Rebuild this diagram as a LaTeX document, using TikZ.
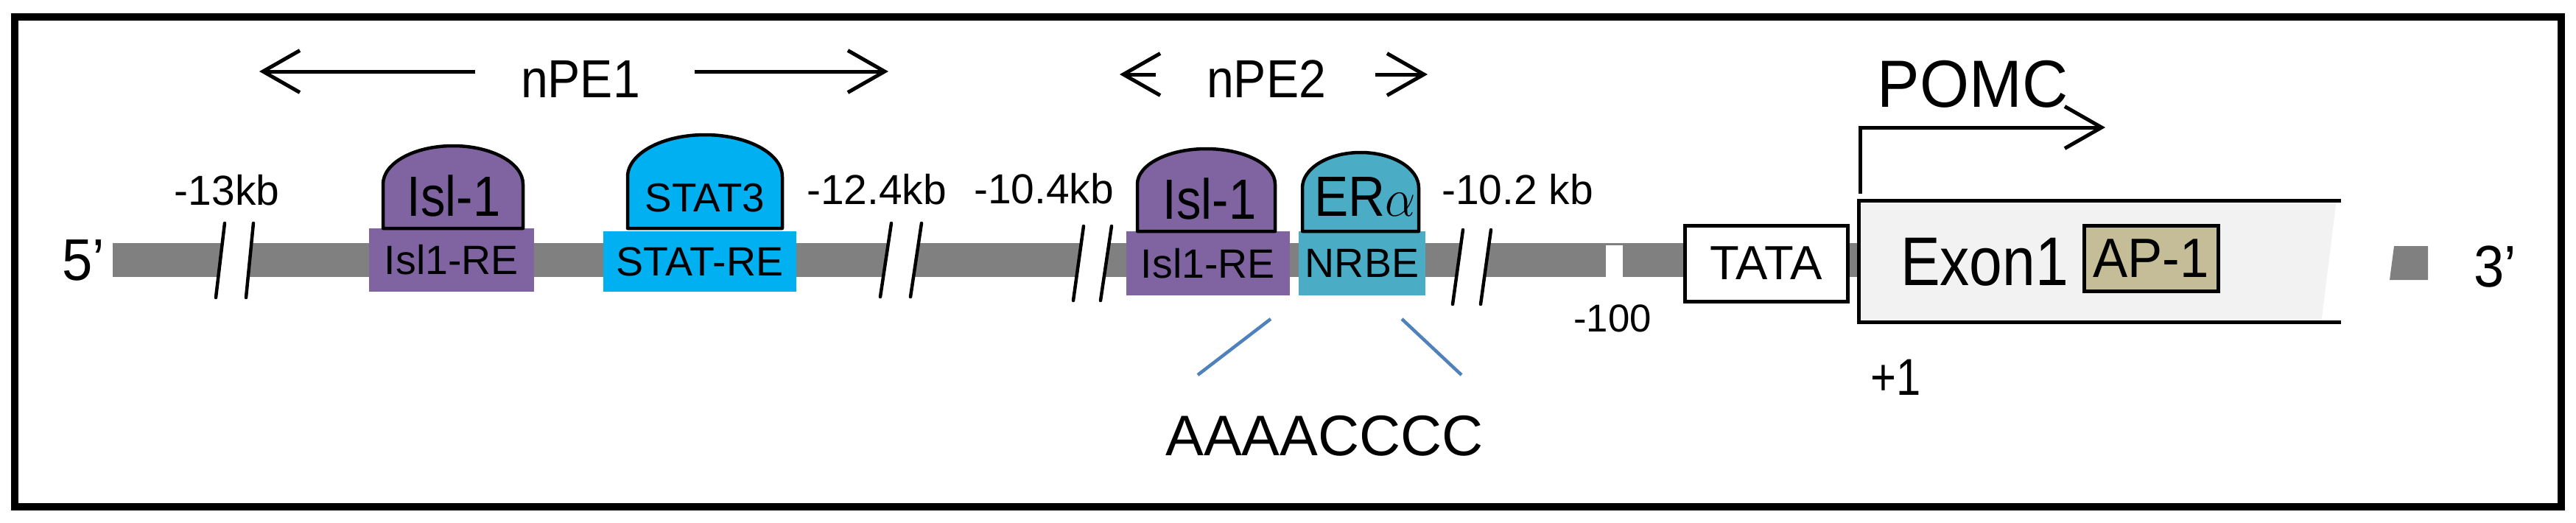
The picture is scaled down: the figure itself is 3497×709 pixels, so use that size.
\documentclass[tikz,border=0pt]{standalone}
\usepackage{fontspec}
\setmainfont{Liberation Sans}
\usetikzlibrary{arrows.meta}
\definecolor{dna}{HTML}{808080}
\definecolor{islpurple}{HTML}{8064A2}
\definecolor{statcyan}{HTML}{00B0F0}
\definecolor{erteal}{HTML}{4BACC6}
\definecolor{exongray}{HTML}{F2F2F2}
\definecolor{aptan}{HTML}{C4BD97}
\definecolor{linkblue}{HTML}{4F81BD}
\newcommand{\fsz}[1]{\fontsize{#1pt}{#1pt}\selectfont}
\newcommand{\nar}[2]{\scalebox{#1}[1]{#2}}
\begin{document}
\begin{tikzpicture}[x=0.1mm,y=-0.1mm,
  txt/.style={inner sep=0pt, outer sep=0pt, anchor=base},
  kb/.style={txt, font=\fsz{16.2}},
  re/.style={inner sep=0pt, outer sep=0pt, font=\fsz{15.8}},
  dome/.style={line width=0.45mm, line join=round, draw=black},
  brk/.style={line width=0.45mm, line cap=round, draw=black},
  barb/.style={line width=0.5mm, -{Straight Barb[length=5mm, width=5.7mm, line width=0.5mm]}},
  blk/.style={draw=black, line width=0.5mm, inner sep=0pt, outer sep=0pt},
  link/.style={draw=linkblue, line width=0.45mm}]
\useasboundingbox (0,0) rectangle (3497,709);
\draw[line width=1mm] (20,23) rectangle (3477,688);

% DNA bar
\fill[dna] (153,330) rectangle (2521,376);
\fill[white] (2180,333) rectangle (2203,377);
\fill[dna] (3250,334) -- (3296,334) -- (3296,380) -- (3244,380) -- cycle;

% breaks
\fill[white] (305,303) -- (344,303) -- (334,404) -- (293,404) -- cycle;
\draw[brk] (305,303) -- (293,404); \draw[brk] (344,303) -- (334,404);
\fill[white] (1210,303) -- (1251,303) -- (1236,403) -- (1195,403) -- cycle;
\draw[brk] (1210,303) -- (1195,403); \draw[brk] (1251,303) -- (1236,403);
\fill[white] (1471,307) -- (1509,307) -- (1494,408) -- (1457,408) -- cycle;
\draw[brk] (1471,307) -- (1457,408); \draw[brk] (1509,307) -- (1494,408);
\fill[white] (1986,312) -- (2024,312) -- (2010,413) -- (1972,413) -- cycle;
\draw[brk] (1986,312) -- (1972,413); \draw[brk] (2024,312) -- (2010,413);

% ends
\node[txt, font=\fsz{22.7}] (five) at (113,380) {\nar{0.93}{5’}};
\node[txt, font=\fsz{22.7}] (three) at (3387,389) {\nar{0.93}{3’}};

% kb labels
\node[kb] (k13) at (308,278) {-13kb};
\node[kb] (k124) at (1190,277) {-12.4kb};
\node[kb] (k104) at (1417,276) {-10.4kb};
\node[kb] (k102) at (2060,277) {-10.2 kb};
\node[txt, font=\fsz{15}] (m100) at (2189,450) {-100};

% response elements
\node[re, fill=islpurple, minimum width=22.4mm, minimum height=8.6mm] (isre1) at (613,353) {Isl1-RE};
\node[re, fill=statcyan, minimum width=26.2mm, minimum height=8.2mm] (stre) at (950,355) {STAT-RE};
\node[re, fill=islpurple, minimum width=22.2mm, minimum height=8.7mm] (isre2) at (1640,357.5) {Isl1-RE};
\node[re, fill=erteal, minimum width=17.2mm, minimum height=8.7mm] (nrbe) at (1849,357.5) {NRBE};

% domes
\filldraw[dome, fill=islpurple] (520,310) -- (520,250) arc[start angle=180, end angle=0, x radius=9.5mm, y radius=5.2mm] -- (710,310) -- cycle;
\filldraw[dome, fill=statcyan] (852,310) -- (852,240) arc[start angle=180, end angle=0, x radius=10.5mm, y radius=5.7mm] -- (1062,310) -- cycle;
\filldraw[dome, fill=islpurple] (1544,314) -- (1544,250) arc[start angle=180, end angle=0, x radius=9.35mm, y radius=4.8mm] -- (1731,314) -- cycle;
\filldraw[dome, fill=erteal] (1768,314) -- (1768,255) arc[start angle=180, end angle=0, x radius=7.9mm, y radius=4.8mm] -- (1926,314) -- cycle;
\node[txt, font=\fsz{21.9}] (isl1a) at (616,293) {\nar{0.87}{Isl-1}};
\node[txt, font=\fsz{15.6}] (stat3) at (957,287) {STAT3};
\node[txt, font=\fsz{21.9}] (isl1b) at (1642,297) {\nar{0.87}{Isl-1}};
\node[txt, font=\fsz{21.9}] (era) at (1853,293) {\nar{0.9}{ER$\alpha$}};

% sequence
\coordinate (l1a) at (1725,433); \coordinate (l1b) at (1626,509);
\coordinate (l2a) at (1903,433); \coordinate (l2b) at (1984,509);
\draw[link] (l1a) -- (l1b);
\draw[link] (l2a) -- (l2b);
\node[txt, font=\fsz{22.1}] (seq) at (1798,618) {AAAACCCC};

% TATA and exon
\node[blk, fill=white, minimum width=22.1mm, minimum height=10.3mm, font=\fsz{18.5}] (tata) at (2397.5,357.5) {TATA};
\fill[exongray] (2521,270) -- (3172,270) -- (3151,439) -- (2521,439) -- cycle;
\draw[line width=0.5mm] (3178,272) -- (2523,272) -- (2523,437) -- (3178,437);
\node[txt, font=\fsz{26.6}] (exon) at (2694,387) {\nar{0.86}{Exon1}};
\node[blk, fill=aptan, minimum width=18.2mm, minimum height=8.9mm, font=\fsz{21.4}] (ap1) at (2920,350.5) {\nar{0.94}{AP-1}};
\node[txt, font=\fsz{20}] (plus1) at (2574,536) {\nar{0.85}{+1}};

% POMC
\coordinate (tss) at (2525,263);
\coordinate (pbend) at (2525,173);
\coordinate (ptip) at (2858,173);
\draw[barb, line join=miter] (tss) -- (pbend) -- (ptip);
\node[txt, font=\fsz{25.8}] (pomc) at (2678,145) {\nar{0.95}{POMC}};

% nPE arrows
\node[txt, font=\fsz{20.7}] (npe1) at (788,132) {\nar{0.91}{nPE1}};
\node[txt, font=\fsz{20.7}] (npe2) at (1719,132) {\nar{0.91}{nPE2}};
\coordinate (a1t) at (645,97); \coordinate (a1h) at (352,97);
\coordinate (a2t) at (943,97); \coordinate (a2h) at (1206,97);
\coordinate (a3t) at (1569,101); \coordinate (a3h) at (1520,101);
\coordinate (a4t) at (1867,101); \coordinate (a4h) at (1938,101);
\draw[barb] (a1t) -- (a1h);
\draw[barb] (a2t) -- (a2h);
\draw[barb] (a3t) -- (a3h);
\draw[barb] (a4t) -- (a4h);
\end{tikzpicture}
\end{document}
